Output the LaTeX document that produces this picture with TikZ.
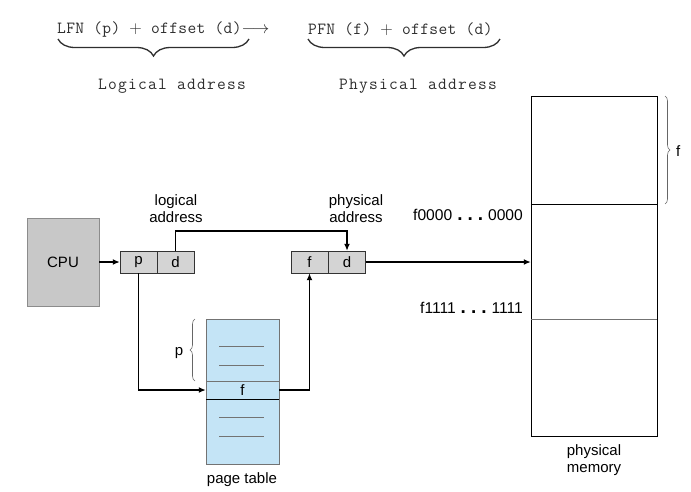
\documentclass[tikz,border=0pt]{standalone}
\usepackage{fontspec}
\setmainfont{Liberation Sans}
\newfontfamily\formulafont{Latin Modern Mono}[LetterSpace=2.2]
\newfontfamily\captionfont{Latin Modern Mono}[LetterSpace=7.5]
\usetikzlibrary{arrows.meta,decorations.pathreplacing}
\definecolor{cpugray}{HTML}{C8C8C8}
\definecolor{cellgray}{HTML}{D4D4D4}
\definecolor{tableblue}{HTML}{C4E4F6}
\definecolor{formtext}{HTML}{2E2E2E}
\newcommand{\spreaddots}{\hspace{5pt}{\fontsize{19}{17}\selectfont\textbf{.\hspace{5pt}.\hspace{5pt}.}}\hspace{5pt}}
\begin{document}
\begin{tikzpicture}[x=1pt,y=-1pt,
  lbl/.style={font=\fontsize{15}{17}\selectfont, inner sep=0pt},
  cell/.style={draw=black!80, fill=cellgray, minimum width=37pt, minimum height=22pt, inner sep=0pt, font=\fontsize{15}{17}\selectfont},
  link/.style={line width=1.6pt, -{Latex[length=7pt,width=6pt]}},
  formula/.style={font=\formulafont\fontsize{17}{20}\selectfont, text=formtext, inner sep=0pt},
  caption/.style={font=\captionfont\fontsize{17}{20}\selectfont, text=formtext, inner sep=0pt},
  bigbrace/.style={decorate, decoration={brace, amplitude=17pt}, line width=1.3pt, draw=formtext},
  thinbrace/.style={decorate, decoration={brace, amplitude=5pt}, line width=0.6pt, draw=black!60},
  tablerow/.style={draw=black!55, fill=tableblue, minimum width=73pt, inner sep=0pt},
  entry/.style={draw=black!55, line width=0.6pt},
]
\useasboundingbox (0,0) rectangle (691,491);

% address formulas
\node[formula, anchor=west] (lfn) at (57,29) {LFN (p) $+$ offset (d)$\longrightarrow$};
\node[formula, anchor=west] (pfn) at (308,29) {PFN (f) $+$ offset (d)};
\draw[bigbrace] (249,39) -- (58,39);
\draw[bigbrace] (500,39) -- (308,39);
\node[caption] (lcap) at (172,86) {Logical address};
\node[caption] (pcap) at (418,86) {Physical address};

% CPU and address registers
\node[draw=black!45, fill=cpugray, minimum width=72pt, minimum height=88pt, lbl] (cpu) at (63,262) {CPU};
\node[cell] (p) at (138.5,262) {p};
\node[cell] (d) at (175.5,262) {d};
\node[cell] (f) at (309.5,262) {f};
\node[cell] (d2) at (347,262) {d};
\node[lbl, align=center] (la) at (176,209) {logical\\address};
\node[lbl, align=center] (pa) at (356,209) {physical\\address};

% physical memory
\node[draw, minimum width=126pt, minimum height=340pt, inner sep=0pt] (mem) at (594,266) {};
\draw (mem.west |- 0,204) -- (mem.east |- 0,204);
\draw[black!55] (mem.west |- 0,319) -- (mem.east |- 0,319);
\node[lbl, align=center] (mcap) at (594,460) {physical\\memory};
\node[lbl, anchor=east, font=\fontsize{15.6}{17}\selectfont] (lo) at (523,215) {f0000\spreaddots 0000};
\node[lbl, anchor=east, font=\fontsize{15.6}{17}\selectfont] (hi) at (523,308) {f1111\spreaddots 1111};
\draw[thinbrace] (665,96) -- (665,204);
\node[lbl, anchor=west] (fb) at (676,151) {f};

% page table
\node[tablerow, minimum height=62pt] (pt1) at (242.5,350) {};
\node[tablerow, minimum height=18pt, lbl] (pf) at (242.5,390) {f};
\node[tablerow, minimum height=65pt] (pt2) at (242.5,431.5) {};
\draw[black] (pf.south west) -- (pf.south east);
\draw[entry] (219,346) -- (264,346);
\draw[entry] (219,365) -- (264,365);
\draw[entry] (219,417) -- (264,417);
\draw[entry] (219,436) -- (264,436);
\node[lbl] (ptcap) at (242,480) {page table};
\draw[thinbrace] (195,381) -- (195,319);
\node[lbl] (pb) at (179,353) {p};

% connectors
\draw[link] (cpu.east) -- (p.west);
\draw[link] (d.north) -- ++(0,-20) -| (d2.north);
\draw[link] (p.south) |- (pf.west);
\draw[link] (pf.east) -| (f.south);
\draw[link] (d2.east) -- (d2.east -| mem.west);
\end{tikzpicture}
\end{document}
